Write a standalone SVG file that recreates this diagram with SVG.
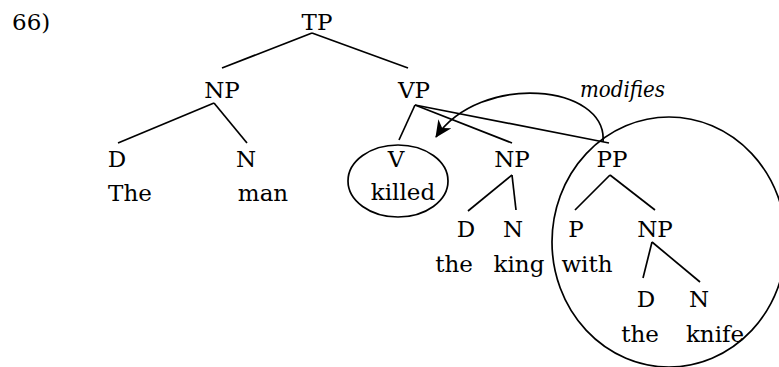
<svg xmlns="http://www.w3.org/2000/svg" width="779" height="367" viewBox="0 0 779 367">
<defs>
<style>
text{font-family:'DejaVu Serif',serif;font-size:23px;fill:#000;text-anchor:middle}
.l{stroke:#000;stroke-width:1.7;fill:none}
.it{font-style:italic;text-anchor:start}
</style>
<marker id="ah" markerUnits="userSpaceOnUse" markerWidth="18" markerHeight="16" viewBox="0 0 18 16" refX="16" refY="8" orient="auto">
<path d="M0,0 L17,8 L0,16 L5,8 z" fill="#000"/>
</marker>
</defs>
<rect width="779" height="367" fill="#fff"/>
<text x="12" y="30" style="text-anchor:start">66)</text>
<g id="connectors">
<line class="l" x1="312" y1="33" x2="222" y2="68"/>
<line class="l" x1="312" y1="33" x2="408" y2="68"/>
<line class="l" x1="214" y1="103" x2="118" y2="143"/>
<line class="l" x1="214" y1="103" x2="247" y2="143"/>
<line class="l" x1="415" y1="105" x2="399" y2="140"/>
<line class="l" x1="415" y1="105" x2="512" y2="143"/>
<line class="l" x1="415" y1="105" x2="609" y2="143"/>
<line class="l" x1="512" y1="175" x2="468" y2="211"/>
<line class="l" x1="512" y1="175" x2="516" y2="210"/>
<line class="l" x1="610" y1="175" x2="575" y2="210"/>
<line class="l" x1="610" y1="175" x2="655" y2="210"/>
<line class="l" x1="652" y1="242" x2="643" y2="278"/>
<line class="l" x1="652" y1="242" x2="700" y2="282"/>
<path class="l" d="M603,142 C608,84 480,72 436,137" marker-end="url(#ah)"/>
</g>
<g id="TP"><text x="317" y="30">TP</text></g>
<g id="NP1"><text x="222" y="98">NP</text></g>
<g id="VP"><text x="414" y="98">VP</text></g>
<g id="D1"><text x="117" y="167">D</text><text x="130" y="201">The</text></g>
<g id="N1"><text x="246" y="167">N</text><text x="263" y="201">man</text></g>
<g id="V"><ellipse class="l" cx="398" cy="181" rx="50" ry="36"/><text x="396" y="167">V</text><text x="403" y="200">killed</text></g>
<g id="NP2"><text x="512" y="167">NP</text></g>
<g id="PP"><ellipse class="l" cx="669" cy="242" rx="117" ry="125"/><text x="612" y="167">PP</text></g>
<g id="D2"><text x="466" y="237">D</text><text x="454" y="272">the</text></g>
<g id="N2"><text x="513" y="237">N</text><text x="519" y="272">king</text></g>
<g id="P"><text x="576" y="237">P</text><text x="587" y="272">with</text></g>
<g id="NP3"><text x="655" y="237">NP</text></g>
<g id="D3"><text x="646" y="307">D</text><text x="640" y="342">the</text></g>
<g id="N3"><text x="699" y="307">N</text><text x="715" y="342">knife</text></g>
<g id="label"><text class="it" x="580" y="97" textLength="85" lengthAdjust="spacingAndGlyphs">modifies</text></g>
</svg>
